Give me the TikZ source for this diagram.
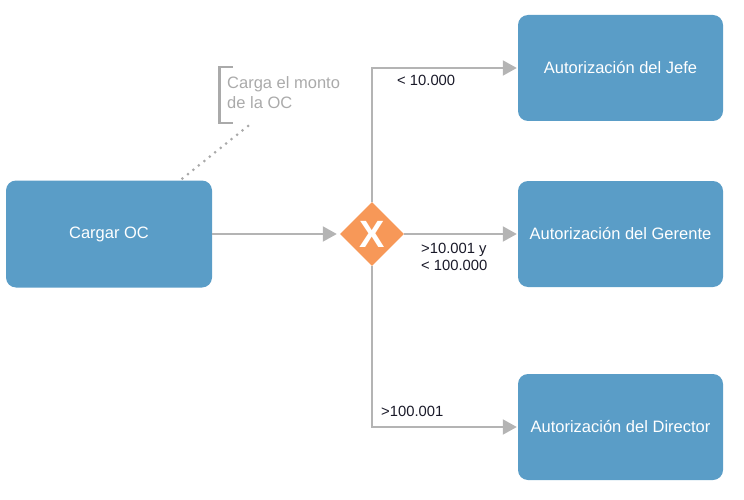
\documentclass[tikz,border=0pt]{standalone}
\usepackage{fontspec}
\setmainfont{Liberation Sans}
\usetikzlibrary{shapes.geometric,arrows.meta,calc}
\definecolor{boxblue}{RGB}{90,157,199}
\definecolor{gworange}{RGB}{247,152,88}
\definecolor{linegray}{RGB}{180,180,180}
\definecolor{annogray}{RGB}{170,170,170}
\definecolor{labeltext}{RGB}{25,25,40}
\tikzset{
  taskbox/.style={rectangle, rounded corners=10pt, fill=boxblue, text=white,
    minimum width=205pt, minimum height=106pt, inner sep=0pt,
    font=\fontsize{16.5}{19}\selectfont},
  gateway/.style={diamond, fill=gworange, text=white, minimum width=64pt,
    minimum height=64pt, inner sep=0pt, shape aspect=1,
    font=\fontsize{38}{38}\selectfont\bfseries},
  flow/.style={draw=linegray, line width=2pt,
    -{Triangle[length=14pt,width=15pt,fill=linegray]}},
  condlabel/.style={anchor=west, text=labeltext, align=left, inner sep=0pt,
    font=\fontsize{14.8}{17}\selectfont},
  annotext/.style={anchor=west, text=annogray, align=left, inner sep=0pt,
    font=\fontsize{16.5}{20}\selectfont},
  annoline/.style={draw=annogray, line width=2.5pt},
  assoc/.style={draw=annogray, line width=3pt, line cap=round,
    dash pattern=on 0pt off 7pt}
}
\begin{document}
\begin{tikzpicture}[x=1pt,y=-1pt]
\useasboundingbox (0,0) rectangle (744,500);
\node[taskbox, minimum width=206pt, minimum height=107pt] (cargar) at (109,234) {Cargar OC};
\node[taskbox] (jefe) at (620.5,68) {Autorización del Jefe};
\node[taskbox] (gerente) at (620.5,234) {Autorización del Gerente};
\node[taskbox] (director) at (620.5,427) {Autorización del Director};
\node[gateway] (gw) at (372,234) {X};

\draw[flow, shorten >=3pt] (cargar.east) -- (gw.west);
\draw[flow, shorten >=1pt] (gw.north) |- (jefe.west);
\draw[flow, shorten >=1pt] (gw.east) -- (gerente.west);
\draw[flow, shorten >=1pt] (gw.south) |- (director.west);

\node[condlabel] (l1) at (397,80) {< 10.000};
\node[condlabel, anchor=north west] (l2) at (421,243) {>10.001 y\\< 100.000};
\node[condlabel] (l3) at (381,411) {>100.001};

\node[annotext] (anno) at (227,93) {Carga el monto\\de la OC};
\draw[annoline] (233,67) -- (219.5,67) -- (219.5,123) -- (233,123);
\coordinate (annoend) at (248,126);
\draw[assoc] (annoend) -- ($(cargar.north east)+(-32,0)$);
\end{tikzpicture}
\end{document}
